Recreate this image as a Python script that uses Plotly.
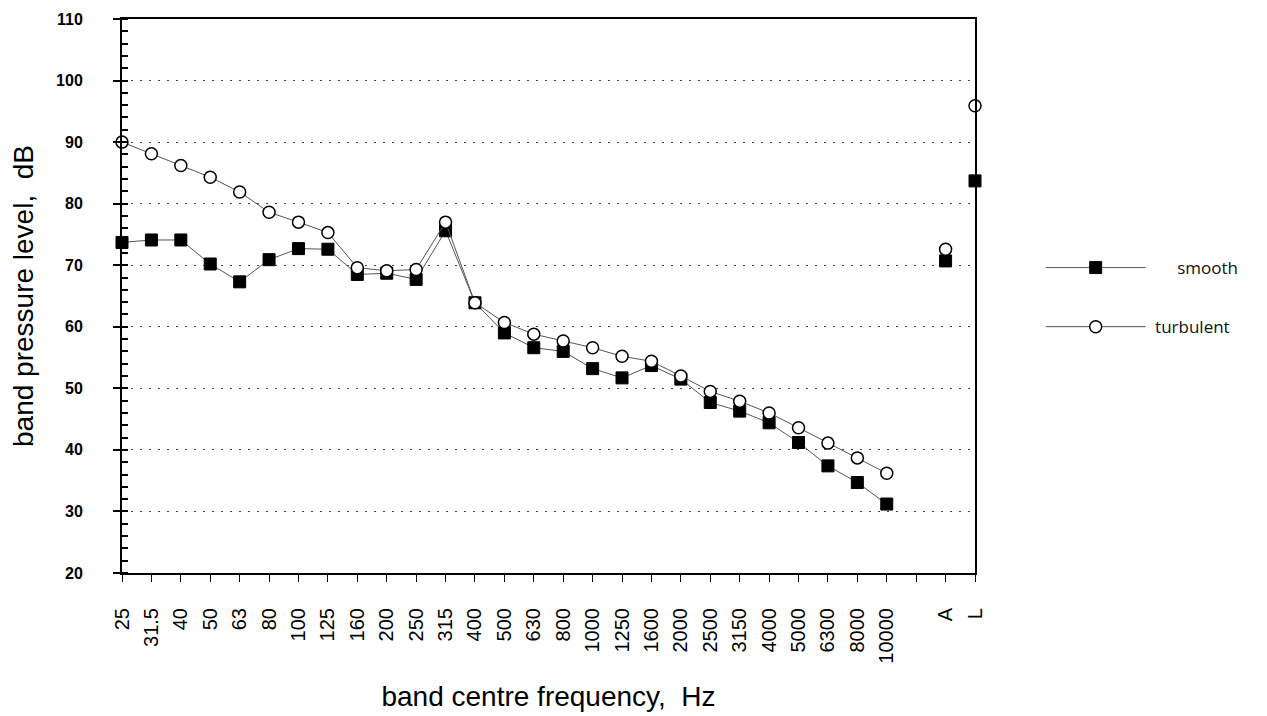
import plotly.graph_objects as go

# --- data -------------------------------------------------------------
bands = ["25", "31.5", "40", "50", "63", "80", "100", "125", "160", "200",
         "250", "315", "400", "500", "630", "800", "1000", "1250", "1600",
         "2000", "2500", "3150", "4000", "5000", "6300", "8000", "10000"]
spacer = [" "]
overall = ["A", "L"]

smooth_band = [73.7, 74.1, 74.1, 70.2, 67.3, 70.9, 72.7, 72.6, 68.5, 68.7,
               67.7, 75.6, 63.9, 59.0, 56.6, 56.0, 53.2, 51.7, 53.7, 51.5,
               47.7, 46.3, 44.4, 41.2, 37.4, 34.7, 31.2]
turbulent_band = [90.0, 88.1, 86.2, 84.3, 81.9, 78.6, 77.0, 75.3, 69.6, 69.1,
                  69.3, 77.0, 63.9, 60.7, 58.8, 57.7, 56.6, 55.2, 54.4, 52.0,
                  49.5, 47.9, 46.0, 43.6, 41.1, 38.7, 36.2]
smooth_overall = [70.7, 83.7]
turbulent_overall = [72.6, 95.9]

y_ticks = [20, 30, 40, 50, 60, 70, 80, 90, 100, 110]

categories = bands + spacer + overall

# --- figure -----------------------------------------------------------
fig = go.Figure()

line_style = dict(color="#555", width=1)
sq = dict(symbol="square", size=12, color="#000", line=dict(color="#000", width=1))
circ = dict(symbol="circle", size=12, color="white", line=dict(color="#000", width=1.5))

fig.add_trace(go.Scatter(
    x=bands, y=smooth_band, name="\u00a0\u00a0\u00a0\u00a0\u00a0\u00a0smooth",
    mode="lines+markers", line=line_style, marker=sq,
    cliponaxis=False, legendgroup="s"))
fig.add_trace(go.Scatter(
    x=overall, y=smooth_overall, name="smooth", mode="markers", marker=sq,
    cliponaxis=False, showlegend=False, legendgroup="s"))
fig.add_trace(go.Scatter(
    x=bands, y=turbulent_band, name="\u00a0turbulent",
    mode="lines+markers", line=line_style, marker=circ,
    cliponaxis=False, legendgroup="t"))
fig.add_trace(go.Scatter(
    x=overall, y=turbulent_overall, name="turbulent", mode="markers", marker=circ,
    cliponaxis=False, showlegend=False, legendgroup="t"))

ytick_font = dict(family="Arial, Liberation Sans, sans-serif", size=16, color="#000", weight="bold")
xtick_font = dict(family="Arial, Liberation Sans, sans-serif", size=20, color="#000")
title_font = dict(family="Arial, Liberation Sans, sans-serif", size=28, color="#000")

fig.update_layout(
    width=1259, height=708,
    margin=dict(l=114, r=292, t=11, b=143, autoexpand=False),
    plot_bgcolor="white", paper_bgcolor="white",
    showlegend=True,
    legend=dict(
        x=1.077, y=0.583, xanchor="left", yanchor="top",
        font=dict(family="Open Sans, DejaVu Sans, sans-serif", size=17, color="#111"),
        itemwidth=100, tracegroupgap=34, traceorder="grouped",
        bgcolor="rgba(0,0,0,0)"),
    xaxis=dict(
        type="category", categoryorder="array", categoryarray=categories,
        range=[0, len(categories) - 1], automargin=False,
        showline=True, linecolor="#000", linewidth=2, mirror=True,
        ticks="outside", ticklen=7, tickwidth=1.3, tickcolor="#000",
        tickangle=-90, tickfont=xtick_font, ticklabelstandoff=18,
        showgrid=False, zeroline=False,
        title=dict(text="band centre frequency,  Hz", font=title_font, standoff=24),
    ),
    xaxis2=dict(
        overlaying="x", range=[0, len(categories) - 1], dtick=1, automargin=False,
        ticks="inside", ticklen=6, tickwidth=1.3, tickcolor="#000",
        showticklabels=False, showgrid=False, zeroline=False, showline=False,
    ),
    yaxis=dict(
        range=[20, 110], tickvals=y_ticks, automargin=False,
        showline=True, linecolor="#000", linewidth=2, mirror=True,
        ticks="outside", ticklen=7, tickwidth=1.5, tickcolor="#000",
        minor=dict(dtick=2, ticks="inside", ticklen=6, tickwidth=1.5,
                   tickcolor="#000", showgrid=False),
        tickfont=ytick_font, ticklabelstandoff=27,
        showgrid=True, gridcolor="#444", gridwidth=1, griddash="2px,7px",
        zeroline=False,
        title=dict(text="band pressure level,  dB", font=title_font, standoff=14),
    ),
    yaxis2=dict(
        overlaying="y", range=[20, 110], tickvals=y_ticks, automargin=False,
        ticks="inside", ticklen=6, tickwidth=1.5, tickcolor="#000",
        showticklabels=False, showgrid=False, zeroline=False, showline=False,
    ),
)

fig.write_html("out.html")
